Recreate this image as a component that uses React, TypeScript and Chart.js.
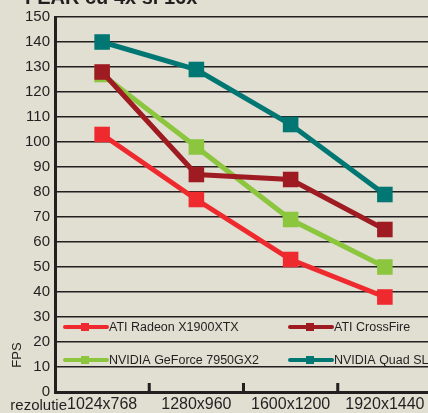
import React, { useEffect, useRef } from "react";
import { Chart, registerables } from "chart.js";

Chart.register(...registerables);

const categories = ["1024x768", "1280x960", "1600x1200", "1920x1440"];
const seriesNames = ["ATI Radeon X1900XTX", "ATI CrossFire", "NVIDIA GeForce 7950GX2", "NVIDIA Quad SLI"];
const radeon = [103, 77, 53, 38];
const crossfire = [128, 87, 85, 65];
const geforce = [127, 98, 69, 50];
const quadSli = [140, 129, 107, 79];
const seriesColors = ["#ee2a2f", "#9e1b22", "#8cc63f", "#007773"];
const yTicks = [0, 10, 20, 30, 40, 50, 60, 70, 80, 90, 100, 110, 120, 130, 140, 150];
const titleText = "FEAR cu 4x si 16x";
const xTitle = "rezolutie";
const yTitle = "FPS";

const FONT = "'Liberation Sans', sans-serif";

const extrasPlugin = {
  id: "extras",
  afterDatasetsDraw(chart: any) {
    const ctx = chart.ctx;
    const area = chart.chartArea;
    const xs = chart.scales.x;
    ctx.save();
    // inner tick marks at category boundaries
    ctx.strokeStyle = "#231f20";
    ctx.lineWidth = 3;
    for (let i = 1; i < categories.length; i++) {
      const x = (xs.getPixelForValue(i - 1) + xs.getPixelForValue(i)) / 2;
      ctx.beginPath();
      ctx.moveTo(x, area.bottom);
      ctx.lineTo(x, area.bottom - 9);
      ctx.stroke();
    }
    // legend
    const cols = [63, 288];
    const rows = [327, 360];
    ctx.font = "12.5px " + FONT;
    ctx.textBaseline = "middle";
    ctx.textAlign = "left";
    seriesNames.forEach((name, i) => {
      const lx = cols[i % 2];
      const ly = rows[Math.floor(i / 2)];
      ctx.strokeStyle = seriesColors[i];
      ctx.lineWidth = 4;
      ctx.lineCap = "round";
      ctx.beginPath();
      ctx.moveTo(lx + 2, ly);
      ctx.lineTo(lx + 44, ly);
      ctx.stroke();
      ctx.fillStyle = seriesColors[i];
      ctx.fillRect(lx + 18, ly - 4, 8, 8);
      ctx.fillStyle = "#231f20";
      ctx.fillText(name, lx + 46, ly + 1);
    });
    // axis titles
    ctx.font = "15px " + FONT;
    ctx.textAlign = "right";
    ctx.fillText(xTitle, 67, 406);
    ctx.save();
    ctx.translate(17, 355);
    ctx.rotate(-Math.PI / 2);
    ctx.textAlign = "center";
    ctx.font = "13px " + FONT;
    ctx.fillText(yTitle, 0, 0);
    ctx.restore();
    // clipped title
    ctx.font = "bold 20px " + FONT;
    ctx.textAlign = "left";
    ctx.textBaseline = "alphabetic";
    ctx.fillStyle = "#231f20";
    ctx.fillText(titleText, 25, 4);
    ctx.restore();
  },
};

export default function App() {
  const ref = useRef<HTMLCanvasElement>(null);
  useEffect(() => {
    const datasets = [radeon, crossfire, geforce, quadSli].map((d, i) => ({
      label: seriesNames[i],
      data: d,
      borderColor: seriesColors[i],
      backgroundColor: seriesColors[i],
      borderWidth: 5,
      pointStyle: "rect",
      pointRadius: 11,
      pointBorderWidth: 0,
      order: i === 2 ? 1 : 0,
      tension: 0,
    }));
    const chart = new Chart(ref.current!, {
      type: "line",
      data: { labels: categories, datasets },
      options: {
        animation: false,
        responsive: false,
        maintainAspectRatio: false,
        layout: { padding: { top: 17, right: 0, left: 0, bottom: 0 } },
        plugins: { legend: { display: false }, tooltip: { enabled: false } },
        scales: {
          x: {
            offset: true,
            grid: { display: false, drawTicks: false },
            border: { color: "#231f20", width: 3 },
            ticks: { color: "#231f20", font: { family: FONT, size: 16 }, padding: 3, maxRotation: 0, autoSkip: false },
            afterFit: (s: any) => { s.height = 21; },
          },
          y: {
            min: 0,
            max: 150,
            afterBuildTicks: (s: any) => { s.ticks = yTicks.map((v) => ({ value: v })); },
            grid: { color: "#231f20", lineWidth: 1.5, drawTicks: false },
            border: { color: "#231f20", width: 3 },
            ticks: { color: "#231f20", font: { family: FONT, size: 15 }, padding: 5 },
            afterFit: (s: any) => { s.width = 55; },
          },
        },
      },
      plugins: [extrasPlugin],
    } as any);
    return () => chart.destroy();
  }, []);
  return (
    <div style={{ position: "fixed", left: 0, top: 0, width: 428, height: 413, overflow: "hidden", background: "#e1ded2" }}>
      <canvas ref={ref} width={443} height={413} style={{ position: "absolute", left: 0, top: 0, width: 443, height: 413 }} />
    </div>
  );
}
